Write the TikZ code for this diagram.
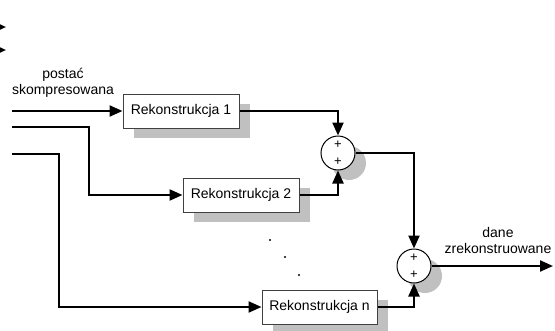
\documentclass[tikz,border=0pt]{standalone}
\usepackage{fontspec}
\setmainfont{Liberation Sans}
\usetikzlibrary{arrows.meta,shadows}
\definecolor{shade}{HTML}{C0C0C0}
\definecolor{edge}{HTML}{404040}
\begin{document}
\begin{tikzpicture}[x=1pt,y=-1pt,
  font=\fontsize{14}{16}\selectfont,
  boxshadow/.style={drop shadow={shadow xshift=11pt,shadow yshift=-10pt,fill=shade,opacity=1}},
  blockbox/.style={draw=edge,line width=1pt,fill=white,minimum width=116pt,
    minimum height=34pt,inner sep=0pt,boxshadow},
  sumnode/.style={circle,draw=black,line width=1pt,fill=white,minimum size=34pt,
    inner sep=0pt,boxshadow},
  plus/.style={font=\fontsize{13}{13}\selectfont,inner sep=0pt},
  flow/.style={line width=2.2pt,-{Triangle[length=13pt,width=11pt]}},
  stub/.style={line width=1.5pt,-{Triangle[length=6pt,width=5pt]}}]
\useasboundingbox (0,0) rectangle (555,330);

% two cut-off arrow tips at the top left edge
\coordinate (t1a) at (-4,27);  \coordinate (t1b) at (6,27);
\coordinate (t2a) at (-4,50);  \coordinate (t2b) at (6,50);
\draw[stub] (t1a) -- (t1b);
\draw[stub] (t2a) -- (t2b);

% reconstruction blocks
\node[blockbox] (b1) at (181,111) {Rekonstrukcja 1};
\node[blockbox] (b2) at (241,195) {Rekonstrukcja 2};
\node[blockbox,minimum width=115pt] (bn) at (319.5,307) {Rekonstrukcja n};

% summing junctions
\node[sumnode] (s1) at (338,153) {};
\node[plus] (s1a) at (338,145) {+};
\node[plus] (s1b) at (338,162) {+};
\node[sumnode] (s2) at (414,266) {};
\node[plus] (s2a) at (414,258) {+};
\node[plus] (s2b) at (414,275) {+};

% inputs
\coordinate (src1) at (12,111);
\coordinate (src2) at (12,127);
\coordinate (src3) at (12,154);
\coordinate (k2) at (89,127);
\coordinate (k3) at (59,154);
\coordinate (out) at (553,266);

\node[align=center] (lin) at (63,83) {postać\\skompresowana};
\node[align=center] (lout) at (498,240) {dane\\zrekonstruowane};

\draw[flow] (src1) -- (b1.west);
\draw[flow] (src2) -- (k2) |- (b2.west);
\draw[flow] (src3) -- (k3) |- (bn.west);

\draw[flow] (b1.east) -| (s1.north);
\draw[flow] (b2.east) -| (s1.south);
\draw[flow] (s1.east) -| (s2.north);
\draw[flow] (bn.east) -| (s2.south);
\draw[flow] (s2.east) -- (out);

% vertical ellipsis between blocks
\fill (270,240) circle (1.1pt);
\fill (285,257) circle (1.1pt);
\fill (299,275) circle (1.1pt);
\end{tikzpicture}
\end{document}
